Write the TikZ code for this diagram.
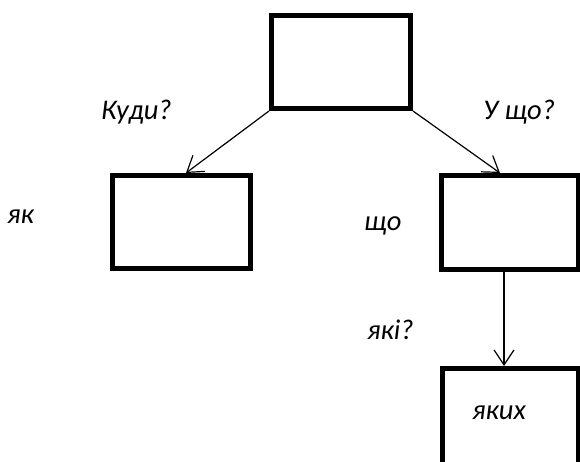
\documentclass[tikz,border=0pt]{standalone}
\usepackage{fontspec}
\setmainfont{Carlito}
\usetikzlibrary{arrows.meta}
\tikzset{
  box/.style={draw=black, line width=5pt, rectangle, inner sep=0pt, fill=white},
  conn/.style={line width=1.2pt, -{Straight Barb[length=15pt,width=20pt,line width=1.2pt]}},
  lbl/.style={font=\fontsize{28.5}{32}\selectfont\itshape, inner sep=0pt, anchor=base west}
}
\begin{document}
\begin{tikzpicture}[x=1pt,y=-1pt]
\useasboundingbox (0,0) rectangle (580,461);
\clip (0,0) rectangle (580,461);
\node[box, minimum width=139pt, minimum height=93pt] (top) at (341,62) {};
\node[box, minimum width=138pt, minimum height=93pt] (left) at (181.5,222) {};
\node[box, minimum width=137pt, minimum height=94pt] (right) at (510,222.5) {};
\node[box, minimum width=136pt, minimum height=99pt] (bottom) at (510.5,418) {};
\draw[conn] (top.south west) -- ([xshift=4.5pt]left.north);
\draw[conn] (top.south east) -- ([xshift=-10pt]right.north);
\draw[conn] ([xshift=-6pt]right.south) -- ([xshift=-6.5pt]bottom.north);
\node[lbl] (kudy) at (101,119) {Куди?};
\node[lbl] (ushcho) at (483,119) {У що?};
\node[lbl] (yak) at (7,223) {як};
\node[lbl] (shcho) at (364,230) {що};
\node[lbl] (yaki) at (367,339) {які?};
\node[lbl] (yakykh) at (472,419) {яких};
\end{tikzpicture}
\end{document}
